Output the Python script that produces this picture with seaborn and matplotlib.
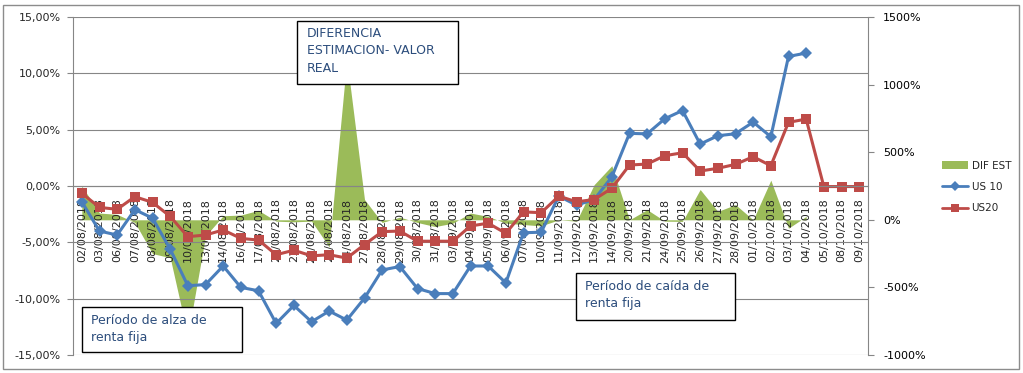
import numpy as np
import pandas as pd
import matplotlib
matplotlib.use('Agg')
import matplotlib.pyplot as plt
import seaborn as sns
from matplotlib.patches import Patch, Rectangle
from matplotlib.lines import Line2D
from matplotlib.ticker import FuncFormatter, MultipleLocator

# Datos
fechas = ["02/08/2018", "03/08/2018", "06/08/2018", "07/08/2018", "08/08/2018", "09/08/2018",
          "10/08/2018", "13/08/2018", "14/08/2018", "16/08/2018", "17/08/2018", "20/08/2018",
          "21/08/2018", "22/08/2018", "23/08/2018", "24/08/2018", "27/08/2018", "28/08/2018",
          "29/08/2018", "30/08/2018", "31/08/2018", "03/09/2018", "04/09/2018", "05/09/2018",
          "06/09/2018", "07/09/2018", "10/09/2018", "11/09/2018", "12/09/2018", "13/09/2018",
          "14/09/2018", "20/09/2018", "21/09/2018", "24/09/2018", "25/09/2018", "26/09/2018",
          "27/09/2018", "28/09/2018", "01/10/2018", "02/10/2018", "03/10/2018", "04/10/2018",
          "05/10/2018", "08/10/2018", "09/10/2018"]

us10 = [-1.4, -4.0, -4.35, -2.1, -2.85, -5.6, -8.85, -8.75, -7.1, -9.0,
        -9.3, -12.2, -10.6, -12.05, -11.1, -11.9, -9.95, -7.45, -7.15, -9.1,
        -9.55, -9.55, -7.1, -7.1, -8.6, -4.15, -4.1, -0.9, -1.7, -1.2,
        0.8, 4.67, 4.63, 5.97, 6.7, 3.72, 4.46, 4.64, 5.67, 4.37,
        11.5, 11.8, np.nan, np.nan, np.nan]

us20 = [-0.65, -1.9, -2.07, -0.95, -1.45, -2.7, -4.5, -4.35, -3.9, -4.65,
        -4.8, -6.1, -5.7, -6.2, -6.1, -6.4, -5.2, -4.05, -4.0, -4.9,
        -4.9, -4.9, -3.55, -3.3, -4.2, -2.3, -2.37, -0.9, -1.4, -1.2,
        -0.2, 1.86, 1.95, 2.69, 2.95, 1.33, 1.57, 1.92, 2.6, 1.8,
        5.65, 5.94, -0.05, -0.05, -0.05]

dif_est = [250, 50, 40, -20, -250, -280, -860, -120, 30, 35,
           70, -10, -15, -10, -200, 1190, 150, -20, 20, -20,
           -50, -25, 50, 25, -25, -35, -45, 0, -10, 260,
           400, 0, 75, -10, -12, 224, 62, 112, 0, 293,
           -62, 25, np.nan, np.nan, np.nan]

BLUE = '#4A7EBB'
RED = '#BE4B48'
GREEN = '#9BBB59'
GRID = '#868686'
TXT = '#2C4D7C'

W, H = 1023, 373

df = pd.DataFrame({'fecha': fechas, 'pos': np.arange(len(fechas)),
                   'US 10': us10, 'US20': us20, 'DIF EST': dif_est})

sns.set_style('white')
plt.rcParams['font.family'] = ['DejaVu Sans']


def fx(px):
    return px / W


def fy(py):
    return 1 - py / H


fig = plt.figure(figsize=(W / 100, H / 100), dpi=100)
ax = fig.add_axes([fx(73), fy(355), fx(868) - fx(73), fy(17) - fy(355)])
ax2 = ax.twinx()
ax.set_zorder(ax2.get_zorder() + 1)
ax.patch.set_visible(False)

# Area de diferencia en el eje secundario
ax2.fill_between(df['pos'], 0, df['DIF EST'], color=GREEN, linewidth=0)
ax2.set_ylim(-1000, 1500)
ax2.yaxis.set_major_locator(MultipleLocator(500))
ax2.yaxis.set_major_formatter(FuncFormatter(lambda v, p: f"{v:.0f}%"))
ax2.tick_params(axis='y', length=4, width=0.8, color=GRID, pad=7, labelsize=8, labelcolor='black')
for s in ['left', 'top', 'bottom']:
    ax2.spines[s].set_visible(False)
ax2.spines['right'].set_color(GRID)
ax2.set_ylabel('')

# Lineas de rentabilidad
sns.lineplot(data=df, x='pos', y='US 10', ax=ax, color=BLUE, marker='D', markersize=6,
             markeredgewidth=0, linewidth=2.2)
sns.lineplot(data=df, x='pos', y='US20', ax=ax, color=RED, marker='s', markersize=7,
             markeredgewidth=0, linewidth=2.2)

# Eje de categorias sobre el 0 del eje principal
ax.spines['bottom'].set_position(('data', 0))
ax.spines['bottom'].set_color(GRID)
ax.spines['left'].set_color(GRID)
ax.spines['top'].set_visible(False)
ax.spines['right'].set_visible(False)

ax.set_xlim(-0.5, len(fechas) - 0.5)
ax.set_ylim(-15, 15)
ax.yaxis.set_major_locator(MultipleLocator(5))
ax.yaxis.set_major_formatter(FuncFormatter(lambda v, p: f"{v:.2f}%".replace('.', ',')))
ax.yaxis.grid(True, color=GRID, linewidth=0.8)
ax.xaxis.grid(False)
ax.tick_params(axis='y', length=4, width=0.8, color=GRID, pad=5, labelsize=8)

ax.set_xticks(df['pos'])
ax.set_xticklabels(fechas)
ax.set_xticks(np.arange(-0.5, len(fechas), 1), minor=True)
ax.tick_params(axis='x', which='major', length=0, pad=9, labelsize=8, labelrotation=90)
ax.tick_params(axis='x', which='minor', length=4, width=0.8, color=GRID, direction='out')
ax.set_xlabel('')
ax.set_ylabel('')

# Leyenda
handles = [Patch(facecolor=GREEN, edgecolor='none'),
           Line2D([], [], color=BLUE, marker='D', markersize=5, markeredgewidth=0, linewidth=2),
           Line2D([], [], color=RED, marker='s', markersize=6, markeredgewidth=0, linewidth=2)]
fig.legend(handles, ['DIF EST', 'US 10', 'US20'], loc='center left',
           bbox_to_anchor=(fx(933), fy(187)), frameon=False, fontsize=7.5,
           handlelength=2.5, labelspacing=1.1, handletextpad=0.3)


def caja(x0, y0, x1, y1, texto, tx, ty):
    fig.patches.append(Rectangle((fx(x0), fy(y1)), fx(x1) - fx(x0), fy(y0) - fy(y1),
                                 transform=fig.transFigure, facecolor='white',
                                 edgecolor='black', linewidth=1, zorder=5))
    fig.text(fx(tx), fy(ty), texto, color=TXT, fontsize=9, va='top', ha='left',
             linespacing=1.45, zorder=6)


caja(297, 21, 458, 84, "DIFERENCIA\nESTIMACION- VALOR\nREAL", 307, 27)
caja(82, 307, 242, 352, "Período de alza de\nrenta fija", 91, 314)
caja(576, 273, 735, 320, "Período de caída de\nrenta fija", 585, 280)

# Marco del grafico
fig.patches.append(Rectangle((fx(3), fy(369)), fx(1019) - fx(3), fy(5) - fy(369),
                             transform=fig.transFigure, facecolor='none',
                             edgecolor='#8C8C8C', linewidth=1, zorder=0))

fig.savefig('out.png', dpi=100)
